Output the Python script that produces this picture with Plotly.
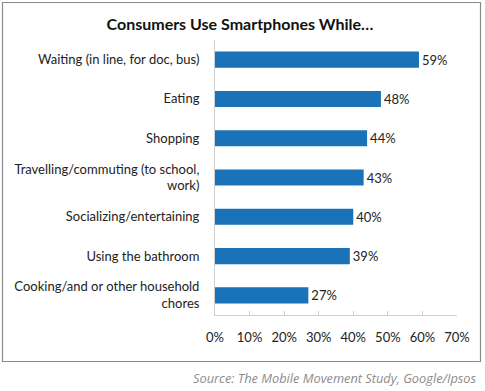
import plotly.graph_objects as go

categories = [
    "Waiting (in line, for doc, bus)",
    "Eating",
    "Shopping",
    "Travelling/commuting (to school,<br>work)",
    "Socializing/entertaining",
    "Using the bathroom",
    "Cooking/and or other household<br>chores",
]
values = [59, 48, 44, 43, 40, 39, 27]
tick_vals = [0, 10, 20, 30, 40, 50, 60, 70]
tick_text = ["0%", "10%", "20%", "30%", "40%", "50%", "60%", "70%"]
title_text = "Consumers Use Smartphones While…"
source_text = "Source: The Mobile Movement Study, Google/Ipsos"

W, H = 485, 391
L, R, T, B = 215, 28, 40, 76
pw = W - L - R
ph = H - T - B

def px_to_paper_x(px):
    return (px - L) / pw

def px_to_paper_y(py):
    return (H - B - py) / ph

fig = go.Figure(
    go.Bar(
        x=values,
        y=categories,
        orientation="h",
        marker=dict(color="#1a73b8", line=dict(width=0)),
        text=[f"{v}%" for v in values],
        textposition="outside",
        textfont=dict(family="Lato", size=13, color="#222222"),
        cliponaxis=False,
        width=0.41,
    )
)

fig.update_layout(
    width=W,
    height=H,
    margin=dict(l=L, r=R, t=T, b=B),
    paper_bgcolor="white",
    plot_bgcolor="white",
    showlegend=False,
    title=dict(
        text=f"<b>{title_text}</b>",
        font=dict(family="Lato", size=16, color="#111111"),
        x=240 / W,
        xanchor="center",
        xref="container",
        yref="container",
        y=1 - 24 / H,
        yanchor="middle",
    ),
    xaxis=dict(
        range=[0, 70],
        tickvals=tick_vals,
        ticktext=tick_text,
        showgrid=False,
        zeroline=False,
        showline=True,
        linecolor="#d0d0d0",
        linewidth=1,
        ticks="inside",
        ticklen=4,
        tickcolor="#d0d0d0",
        tickfont=dict(family="Lato", size=13, color="#222222"),
        ticklabelstandoff=10,
        automargin=False,
        fixedrange=True,
    ),
    yaxis=dict(
        categoryorder="array",
        categoryarray=categories[::-1],
        showgrid=False,
        zeroline=False,
        showline=True,
        linecolor="#d0d0d0",
        linewidth=1,
        ticks="",
        tickfont=dict(family="Lato", size=13, color="#222222"),
        ticklabelstandoff=12,
        automargin=False,
        fixedrange=True,
    ),
    shapes=[
        dict(
            type="rect",
            xref="paper",
            yref="paper",
            x0=px_to_paper_x(2.5),
            x1=px_to_paper_x(480.5),
            y0=px_to_paper_y(361.5),
            y1=px_to_paper_y(2.5),
            line=dict(color="#8a8a8a", width=1.2),
            fillcolor="rgba(0,0,0,0)",
            layer="below",
        )
    ],
    annotations=[
        dict(
            text=f"<i>{source_text}</i>",
            xref="paper",
            yref="paper",
            x=px_to_paper_x(479),
            y=px_to_paper_y(378),
            xanchor="right",
            yanchor="middle",
            showarrow=False,
            font=dict(family="Open Sans", size=12.8, color="#8c8c8c"),
        )
    ],
)

fig.write_html(
    "out.html",
    config={"displayModeBar": False},
    post_script="document.body.style.margin='0';document.body.style.padding='0';",
)
